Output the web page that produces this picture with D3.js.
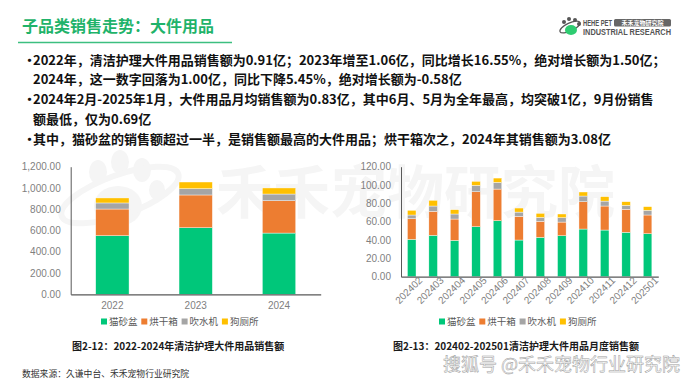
<!DOCTYPE html>
<html>
<head>
<meta charset="utf-8">
<script src="https://cdn.jsdelivr.net/npm/d3@7"></script>
<style>
  body { margin: 0; background: #fff; }
  svg { display: block; font-family: "Noto Sans CJK SC", "Noto Sans", sans-serif; }
</style>
</head>
<body>
<div id="vis"></div>
<script>
const FRAME_WIDTH = 690;
const FRAME_HEIGHT = 388;

// data
const SERIES = ['猫砂盆', '烘干箱', '吹水机', '狗厕所'];
const COLORS = ['#00c77a', '#ed7d31', '#a5a5a5', '#ffc000'];

const YEARS = ['2022', '2023', '2024'];
const YEAR_LITTER = [551, 626, 576];
const YEAR_DRYER = [251, 308, 304];
const YEAR_BLOWER = [57, 59, 63];
const YEAR_TOILET = [47, 63, 57];
const YEAR_TICKS = [0, 200, 400, 600, 800, 1000, 1200];

const MONTHS = ['202402', '202403', '202404', '202405', '202406', '202407',
                '202408', '202409', '202410', '202411', '202412', '202501'];
const MONTH_LITTER = [40.7, 45.1, 39.6, 54.5, 61.1, 40.0, 42.9, 44.7, 52.0, 50.9, 48.4, 46.9];
const MONTH_DRYER = [22.6, 26.2, 23.3, 38.2, 34.5, 25.8, 17.5, 14.9, 29.8, 26.2, 25.1, 20.4];
const MONTH_BLOWER = [4.0, 5.8, 5.5, 6.9, 7.3, 4.7, 4.3, 4.8, 6.2, 5.4, 4.3, 5.1];
const MONTH_TOILET = [5.1, 6.2, 4.7, 4.4, 4.7, 4.4, 4.4, 4.0, 4.4, 4.8, 4.0, 4.0];
const MONTH_TICKS = [0, 20, 40, 60, 80, 100, 120];

const BULLETS = [
  ['2022年，清洁护理大件用品销售额为0.91亿；2023年增至1.06亿，同比增长16.55%，绝对增长额为1.50亿；',
   '2024年，这一数字回落为1.00亿，同比下降5.45%，绝对增长额为-0.58亿'],
  ['2024年2月-2025年1月，大件用品月均销售额为0.83亿，其中6月、5月为全年最高，均突破1亿，9月份销售',
   '额最低，仅为0.69亿'],
  ['其中，猫砂盆的销售额超过一半，是销售额最高的大件用品；烘干箱次之，2024年其销售额为3.08亿']
];

const FRAME = d3.select('#vis')
  .append('svg')
    .attr('width', FRAME_WIDTH)
    .attr('height', FRAME_HEIGHT);

// background watermark (very faint, behind the charts)
const WM = FRAME.append('g').attr('fill', '#f5f5f5');
WM.append('text')
  .attr('x', 216).attr('y', 213)
  .attr('font-size', 57).attr('font-weight', 'bold')
  .text('禾禾宠物研究院');
WM.append('ellipse').attr('cx', 118).attr('cy', 206).attr('rx', 24).attr('ry', 20);
WM.append('ellipse').attr('cx', 98).attr('cy', 172).attr('rx', 9).attr('ry', 12);
WM.append('ellipse').attr('cx', 120).attr('cy', 162).attr('rx', 9).attr('ry', 12);
WM.append('ellipse').attr('cx', 142).attr('cy', 170).attr('rx', 9).attr('ry', 12);
WM.append('ellipse').attr('cx', 157).attr('cy', 190).attr('rx', 8).attr('ry', 10);
WM.append('ellipse')
  .attr('cx', 120).attr('cy', 195).attr('rx', 62).attr('ry', 20)
  .attr('fill', 'none').attr('stroke', '#f5f5f5').attr('stroke-width', 6)
  .attr('transform', 'rotate(-20,120,195)');

// title
FRAME.append('text')
  .attr('x', 22).attr('y', 32)
  .attr('font-size', 16).attr('font-weight', 'bold')
  .attr('fill', '#1fb36a')
  .text('子品类销售走势：大件用品');
FRAME.append('line')
  .attr('x1', 18).attr('x2', 232).attr('y1', 42.5).attr('y2', 42.5)
  .attr('stroke', '#3cbf80').attr('stroke-width', 1.5);

// logo
const LOGO = FRAME.append('g');
LOGO.append('ellipse').attr('cx', 570).attr('cy', 27).attr('rx', 11).attr('ry', 4)
  .attr('fill', 'none').attr('stroke', '#555').attr('stroke-width', 1.2)
  .attr('transform', 'rotate(-25,570,27)');
LOGO.append('ellipse').attr('cx', 571).attr('cy', 30).attr('rx', 6).attr('ry', 5).attr('fill', '#2ecc71');
[[564, 22], [569, 19], [575, 20], [579, 24]].forEach(p => {
  LOGO.append('circle').attr('cx', p[0]).attr('cy', p[1]).attr('r', 2).attr('fill', '#555');
});
LOGO.append('text')
  .attr('x', 583).attr('y', 26.3)
  .attr('font-family', 'Liberation Sans, sans-serif')
  .attr('font-size', 8.5).attr('font-weight', 'bold').attr('fill', '#555')
  .attr('textLength', 29).attr('lengthAdjust', 'spacingAndGlyphs')
  .text('HEHE PET');
LOGO.append('rect').attr('x', 614).attr('y', 19).attr('width', 57).attr('height', 7.5)
  .attr('rx', 1.5).attr('fill', '#666');
LOGO.append('text')
  .attr('x', 642.5).attr('y', 25.2).attr('text-anchor', 'middle')
  .attr('font-size', 6).attr('font-weight', 'bold').attr('fill', '#fff')
  .text('禾禾宠物研究院');
LOGO.append('text')
  .attr('x', 583).attr('y', 35.3)
  .attr('font-family', 'Liberation Sans, sans-serif')
  .attr('font-size', 9).attr('font-weight', 'bold').attr('fill', '#555')
  .attr('textLength', 88).attr('lengthAdjust', 'spacingAndGlyphs')
  .text('INDUSTRIAL RESEARCH');

// bullet text
let lineY = 64.5;
BULLETS.forEach((lines) => {
  FRAME.append('text')
    .attr('x', 23).attr('y', lineY)
    .attr('font-size', 13).attr('font-weight', 'bold').attr('fill', '#111')
    .text('·');
  lines.forEach((t) => {
    FRAME.append('text')
      .attr('x', 33).attr('y', lineY)
      .attr('font-size', 13).attr('font-weight', 'bold').attr('fill', '#111')
      .text(t);
    lineY += 19.8;
  });
});

// stacked bar chart helper
function drawStack(cfg) {
  const table = cfg.cats.map((c, i) => {
    const row = {cat: c};
    SERIES.forEach((s, j) => { row[s] = cfg.values[j][i]; });
    return row;
  });
  const stacked = d3.stack().keys(SERIES)(table);

  const X_SCALE = d3.scaleBand()
    .domain(cfg.cats)
    .range([cfg.left, cfg.right])
    .paddingInner(0.6)
    .paddingOuter(0.3);

  const Y_SCALE = d3.scaleLinear()
    .domain([0, cfg.max])
    .range([cfg.bottom, cfg.top]);

  const g = FRAME.append('g');

  g.selectAll('.layer')
    .data(stacked)
    .enter()
    .append('g')
      .attr('fill', (d, i) => COLORS[i])
    .selectAll('rect')
    .data(d => d)
    .enter()
    .append('rect')
      .attr('x', d => X_SCALE(d.data.cat))
      .attr('y', d => Y_SCALE(d[1]))
      .attr('width', X_SCALE.bandwidth())
      .attr('height', d => Y_SCALE(d[0]) - Y_SCALE(d[1]))
      .attr('stroke', '#fff')
      .attr('stroke-width', 0.4);

  const yAxis = g.append('g')
    .attr('transform', 'translate(' + cfg.left + ',0)')
    .call(d3.axisLeft(Y_SCALE).tickValues(cfg.ticks).tickSize(0).tickPadding(10)
      .tickFormat(d3.format(',.2f')));
  yAxis.select('.domain').attr('stroke', '#595959').attr('stroke-width', 1);
  yAxis.selectAll('text')
    .attr('font-family', 'Liberation Sans, sans-serif')
    .attr('font-size', 10).attr('fill', '#7f7f7f');

  const xAxis = g.append('g')
    .attr('transform', 'translate(0,' + cfg.bottom + ')')
    .call(d3.axisBottom(X_SCALE).tickSize(0).tickPadding(cfg.rotate ? 5 : 8));
  xAxis.select('.domain').attr('stroke', '#595959').attr('stroke-width', 1.2);
  const xt = xAxis.selectAll('text')
    .attr('font-family', 'Liberation Sans, sans-serif')
    .attr('font-size', 10).attr('fill', '#7f7f7f');
  if (cfg.rotate) {
    xt.attr('text-anchor', 'end')
      .attr('dx', '0.5em').attr('dy', '0.6em')
      .attr('transform', 'rotate(-45)');
  }

  const legend = g.selectAll('.leg')
    .data(SERIES)
    .enter()
    .append('g')
      .attr('transform', (d, i) => 'translate(' + (cfg.legendX + i * 40.3) + ',' + cfg.legendY + ')');
  legend.append('rect')
    .attr('x', 0).attr('y', -3.5).attr('width', 6).attr('height', 6)
    .attr('fill', (d, i) => COLORS[i]);
  legend.append('text')
    .attr('x', 8).attr('y', 0).attr('dy', '0.35em')
    .attr('font-size', 9.5).attr('fill', '#595959')
    .text(d => d);
}

drawStack({
  cats: YEARS,
  values: [YEAR_LITTER, YEAR_DRYER, YEAR_BLOWER, YEAR_TOILET],
  max: 1200, ticks: YEAR_TICKS,
  left: 70.7, right: 320.7, top: 166.7, bottom: 294.3,
  legendX: 101, legendY: 322, rotate: false
});

drawStack({
  cats: MONTHS,
  values: [MONTH_LITTER, MONTH_DRYER, MONTH_BLOWER, MONTH_TOILET],
  max: 120, ticks: MONTH_TICKS,
  left: 401, right: 658.3, top: 166.7, bottom: 276.7,
  legendX: 439, legendY: 322, rotate: true
});

// captions
FRAME.append('text')
  .attr('x', 72).attr('y', 349.5)
  .attr('font-size', 10).attr('font-weight', 'bold').attr('fill', '#1a1a1a')
  .text('图2-12：2022-2024年清洁护理大件用品销售额');
FRAME.append('text')
  .attr('x', 393).attr('y', 349.5)
  .attr('font-size', 10).attr('font-weight', 'bold').attr('fill', '#1a1a1a')
  .text('图2-13：202402-202501清洁护理大件用品月度销售额');
FRAME.append('text')
  .attr('x', 22).attr('y', 377)
  .attr('font-size', 8.8).attr('fill', '#333')
  .text('数据来源：久谦中台、禾禾宠物行业研究院');

// platform watermark
FRAME.append('text')
  .attr('x', 680).attr('y', 371).attr('text-anchor', 'end')
  .attr('font-size', 18).attr('fill', '#fff')
  .attr('stroke', '#9a9a9a').attr('stroke-width', 0.5)
  .text('搜狐号 @禾禾宠物行业研究院');
</script>
</body>
</html>
